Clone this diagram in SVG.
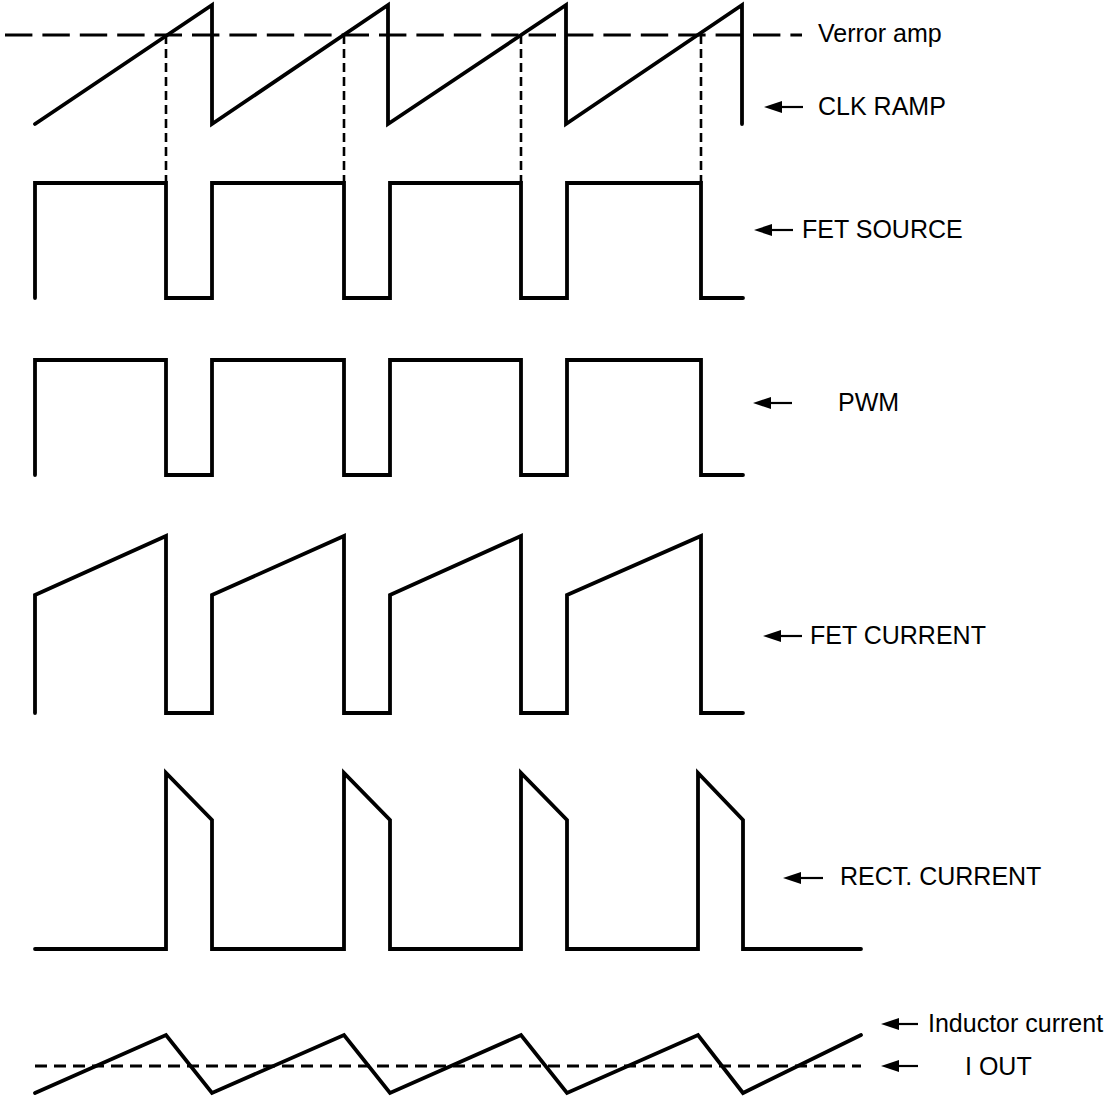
<svg xmlns="http://www.w3.org/2000/svg" width="1106" height="1099" viewBox="0 0 1106 1099">
<style>
.w{fill:none;stroke:#000;stroke-width:3.8;stroke-linejoin:miter;stroke-linecap:round}
.dh{fill:none;stroke:#000;stroke-width:3.2;stroke-dasharray:27.4 10}
.dv{fill:none;stroke:#000;stroke-width:2.6;stroke-dasharray:9 5}
.di{fill:none;stroke:#000;stroke-width:3.2;stroke-dasharray:12 7}
.ar{fill:none;stroke:#000;stroke-width:2.2}
.lbl{font-family:"Liberation Sans",Arial,sans-serif;font-size:25px;fill:#000}
</style>
<defs>
<marker id="ah" viewBox="0 0 18 12" refX="1" refY="6" markerWidth="18" markerHeight="12" markerUnits="userSpaceOnUse" orient="auto-start-reverse">
<path d="M0,0 L18,6 L0,12 Z" fill="#000"/>
</marker>
</defs>
<rect width="1106" height="1099" fill="#fff"/>
<g id="connectors">
<line class="dh" x1="5" y1="35" x2="802" y2="35"/>
<line class="dv" x1="166" y1="35" x2="166" y2="183"/>
<line class="dv" x1="344" y1="35" x2="344" y2="183"/>
<line class="dv" x1="521" y1="35" x2="521" y2="183"/>
<line class="dv" x1="701" y1="35" x2="701" y2="183"/>
<line class="di" x1="35" y1="1066" x2="861" y2="1066"/>
<line class="ar" x1="803" y1="107" x2="781" y2="107" marker-end="url(#ah)"/>
<line class="ar" x1="793" y1="230" x2="771" y2="230" marker-end="url(#ah)"/>
<line class="ar" x1="792" y1="403" x2="770" y2="403" marker-end="url(#ah)"/>
<line class="ar" x1="802" y1="636" x2="780" y2="636" marker-end="url(#ah)"/>
<line class="ar" x1="823" y1="878" x2="800" y2="878" marker-end="url(#ah)"/>
<line class="ar" x1="918" y1="1024" x2="898" y2="1024" marker-end="url(#ah)"/>
<line class="ar" x1="918" y1="1066" x2="898" y2="1066" marker-end="url(#ah)"/>
</g>
<g id="clk-ramp">
<polyline class="w" points="35,124 212,5 212,124 388,5 388,124 566,5 566,124 742,5 742,124"/>
</g>
<g id="fet-source">
<polyline class="w" points="35,298 35,183 166,183 166,298 212,298 212,183 344,183 344,298 390,298 390,183 521,183 521,298 567,298 567,183 701,183 701,298 743,298"/>
</g>
<g id="pwm">
<polyline class="w" points="35,475 35,360 166,360 166,475 212,475 212,360 344,360 344,475 390,475 390,360 521,360 521,475 567,475 567,360 701,360 701,475 743,475"/>
</g>
<g id="fet-current">
<polyline class="w" points="35,713 35,595 166,536 166,713 212,713 212,595 344,536 344,713 390,713 390,595 521,536 521,713 567,713 567,595 701,536 701,713 743,713"/>
</g>
<g id="rect-current">
<polyline class="w" points="35,949 166,949 166,773 212,820 212,949 344,949 344,773 390,820 390,949 521,949 521,773 567,820 567,949 698,949 698,773 743,820 743,949 861,949"/>
</g>
<g id="inductor-current">
<polyline class="w" points="35,1093 166,1035 212,1093 344,1035 390,1093 521,1035 567,1093 698,1035 743,1093 861,1035"/>
</g>
<g id="labels">
<text class="lbl" x="818" y="42">Verror amp</text>
<text class="lbl" x="818" y="115">CLK RAMP</text>
<text class="lbl" x="802" y="238">FET SOURCE</text>
<text class="lbl" x="838" y="411">PWM</text>
<text class="lbl" x="810" y="644">FET CURRENT</text>
<text class="lbl" x="840" y="885">RECT. CURRENT</text>
<text class="lbl" x="928" y="1032">Inductor current</text>
<text class="lbl" x="965" y="1075">I OUT</text>
</g>
</svg>
